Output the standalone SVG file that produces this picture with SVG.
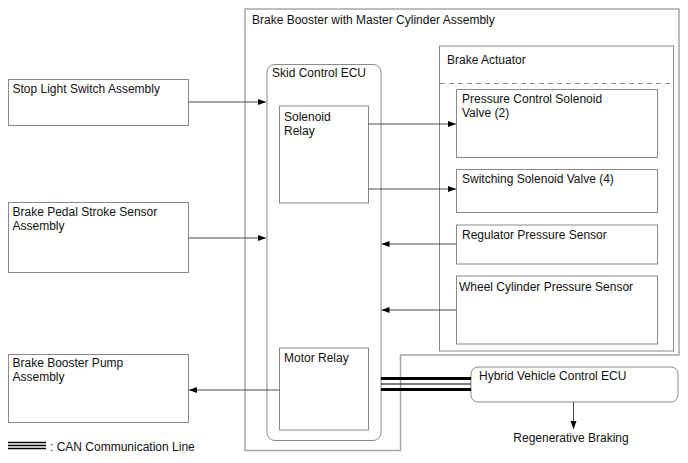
<svg xmlns="http://www.w3.org/2000/svg" width="688" height="463" viewBox="0 0 688 463">
<style>
text{font-family:"Liberation Sans",Arial,sans-serif;font-size:12px;fill:#111}
.box{fill:#fff;stroke:#8a8a8a;stroke-width:1}
.outer{fill:none;stroke:#a8a8a8;stroke-width:1.5}
.conn{fill:none;stroke:#222;stroke-width:0.8}
.can{stroke:#000;fill:none}
</style>
<defs>
<marker id="ah" markerUnits="userSpaceOnUse" markerWidth="9" markerHeight="7" refX="8" refY="3" orient="auto">
<path d="M0,0 L8,3 L0,6 Z" fill="#000"/>
</marker>
</defs>
<rect width="688" height="463" fill="#fff"/>

<g id="brake-booster-master-cylinder">
<path class="outer" d="M245,9 H679 V355 H400.5 V450.5 H245 Z"/>
<text x="252" y="24">Brake Booster with Master Cylinder Assembly</text>
</g>

<g id="brake-actuator">
<rect class="box" x="439.5" y="46" width="234" height="305"/>
<line x1="440" y1="83.5" x2="673" y2="83.5" stroke="#8a8a8a" stroke-width="1" stroke-dasharray="5,4"/>
<text x="447" y="64">Brake Actuator</text>
</g>

<g id="stop-light-switch">
<rect class="box" x="8.5" y="79.5" width="180" height="46"/>
<text x="12.5" y="93">Stop Light Switch Assembly</text>
</g>

<g id="brake-pedal-stroke-sensor">
<rect class="box" x="8.5" y="202.5" width="180" height="70"/>
<text x="12.5" y="216">Brake Pedal Stroke Sensor</text>
<text x="12.5" y="230">Assembly</text>
</g>

<g id="brake-booster-pump">
<rect class="box" x="8.5" y="354.5" width="180" height="68"/>
<text x="12.5" y="367">Brake Booster Pump</text>
<text x="12.5" y="381">Assembly</text>
</g>

<g id="skid-control-ecu">
<rect class="box" x="267" y="64.5" width="114" height="376" rx="8" ry="8"/>
<text x="272" y="77">Skid Control ECU</text>
</g>

<g id="solenoid-relay">
<rect class="box" x="279.5" y="106" width="89" height="97"/>
<text x="284" y="120.5">Solenoid</text>
<text x="284" y="134.5">Relay</text>
</g>

<g id="motor-relay">
<rect class="box" x="279.5" y="348" width="89" height="82"/>
<text x="284" y="362">Motor Relay</text>
</g>

<g id="pressure-control-solenoid-valve">
<rect class="box" x="456.5" y="89.5" width="201" height="68"/>
<text x="462" y="103">Pressure Control Solenoid</text>
<text x="462" y="117">Valve (2)</text>
</g>

<g id="switching-solenoid-valve">
<rect class="box" x="456.5" y="169.5" width="201" height="43"/>
<text x="462" y="183">Switching Solenoid Valve (4)</text>
</g>

<g id="regulator-pressure-sensor">
<rect class="box" x="456.5" y="225" width="201" height="39"/>
<text x="462" y="239">Regulator Pressure Sensor</text>
</g>

<g id="wheel-cylinder-pressure-sensor">
<rect class="box" x="456.5" y="276" width="201" height="68"/>
<text x="459" y="290.5">Wheel Cylinder Pressure Sensor</text>
</g>

<g id="hybrid-vehicle-control-ecu">
<rect class="box" x="471" y="367" width="207" height="35" rx="7" ry="7"/>
<text x="479" y="380">Hybrid Vehicle Control ECU</text>
</g>

<g id="regenerative-braking">
<text x="571" y="442" text-anchor="middle">Regenerative Braking</text>
</g>

<g id="connectors">
<path class="conn" d="M188.5,102 H266" marker-end="url(#ah)"/>
<path class="conn" d="M188.5,238 H266" marker-end="url(#ah)"/>
<path class="conn" d="M368.5,124 H456" marker-end="url(#ah)"/>
<path class="conn" d="M368.5,189 H456" marker-end="url(#ah)"/>
<path class="conn" d="M456.5,244 H381.5" marker-end="url(#ah)"/>
<path class="conn" d="M456.5,310 H381.5" marker-end="url(#ah)"/>
<path class="conn" d="M279.5,390 H189" marker-end="url(#ah)"/>
<path class="conn" d="M573.5,402 V429" marker-end="url(#ah)"/>
<g id="can-line" class="can">
<line x1="381" y1="378.5" x2="471" y2="378.5" stroke-width="3"/>
<line x1="381" y1="384" x2="471" y2="384" stroke-width="1"/>
<line x1="381" y1="389.5" x2="471" y2="389.5" stroke-width="3"/>
</g>
</g>

<g id="legend">
<g class="can">
<line x1="8" y1="442.5" x2="46" y2="442.5" stroke-width="1.5"/>
<line x1="8" y1="445.5" x2="46" y2="445.5" stroke-width="1.5"/>
<line x1="8" y1="448.5" x2="46" y2="448.5" stroke-width="1.5"/>
</g>
<text x="50" y="451">: CAN Communication Line</text>
</g>
</svg>
